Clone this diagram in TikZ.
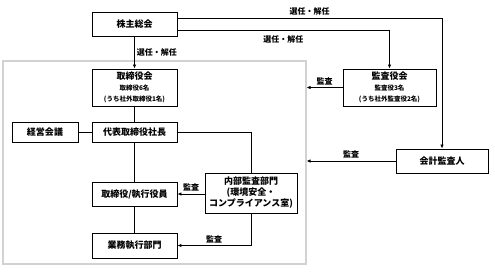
\documentclass[tikz,border=0pt]{standalone}
\usepackage{fontspec}
\setmainfont{Noto Sans CJK JP}
\usetikzlibrary{arrows.meta,positioning}
\newcommand{\memberfont}{\fontsize{6.5}{8}\selectfont}

\begin{document}
\begin{tikzpicture}[x=1pt, y=-1pt,
  every node/.style={font=\bfseries\fontsize{9}{11}\selectfont},
  orgbox/.style={draw, line width=0.9pt, fill=white, align=center,
             inner sep=1pt, minimum width=85pt, minimum height=24pt},
  frame/.style={draw=gray!35, line width=1.1pt, minimum width=303pt,
             minimum height=203pt, inner sep=0pt},
  flow/.style={-{Latex[length=4pt,width=3.5pt]}, line width=0.9pt},
  link/.style={line width=0.9pt},
  lbl/.style={font=\bfseries\fontsize{8}{9}\selectfont, inner sep=2pt},
]
\useasboundingbox (0,0) rectangle (495,273);

% Company frame
\node[frame] (company) at (154.5,162.5) {};

% Boxes
\node[orgbox] (kabu) at (134.5,24) {株主総会};
\node[orgbox, minimum height=37pt] (torishimari) at (134.5,87.5)
  {取締役会\\{\memberfont 取締役6名}\\{\memberfont (うち社外取締役1名)}};
\node[orgbox, minimum height=20pt] (daihyo) at (134.5,132) {代表取締役社長};
\node[orgbox, minimum height=20pt, minimum width=66pt] (keiei) at (45,132) {経営会議};
\node[orgbox] (shikko) at (134.5,194) {取締役/執行役員};
\node[orgbox, minimum height=25pt] (gyomu) at (134.5,245.5) {業務執行部門};
\node[orgbox, minimum width=92pt, minimum height=40pt, inner sep=0pt] (naibu) at (251,193)
  {内部監査部門\\(環境安全・\\コンプライアンス室)};
\node[orgbox, minimum width=93pt, minimum height=37pt] (kansa) at (389.5,87.5)
  {監査役会\\{\memberfont 監査役3名}\\{\memberfont (うち社外監査役2名)}};
\node[orgbox, minimum width=92pt] (kaikei) at (442,161) {会計監査人};

% Appointment / dismissal
\draw[flow] ([yshift=6pt]kabu.east) -| (kaikei.north)
  node[pos=0.25, above, lbl] {選任・解任};
\draw[flow] ([yshift=-6pt]kabu.east) -| (kansa.north)
  node[pos=0.25, below, lbl, yshift=-3pt] {選任・解任};
\draw[flow] (kabu) -- (torishimari)
  node[midway, right, lbl] {選任・解任};

% Internal structure
\draw[link] (torishimari) -- (daihyo);
\draw[link] (keiei) -- (daihyo);
\draw[link] (daihyo) -- (shikko);
\draw[link] (shikko) -- (gyomu);
\draw[link] (daihyo.east) -| (naibu.north);

% Audits
\draw[flow] (naibu.west |- shikko) -- (shikko.east)
  node[midway, above, lbl] {監査};
\draw[flow] (naibu.south) |- (gyomu.east)
  node[pos=0.75, above, lbl] {監査};
\draw[flow] (kansa.west) -- (kansa.west -| company.east)
  node[midway, above, lbl] {監査};
\draw[flow] (kaikei.west) -- (kaikei.west -| company.east)
  node[midway, above, lbl] {監査};

\end{tikzpicture}
\end{document}
